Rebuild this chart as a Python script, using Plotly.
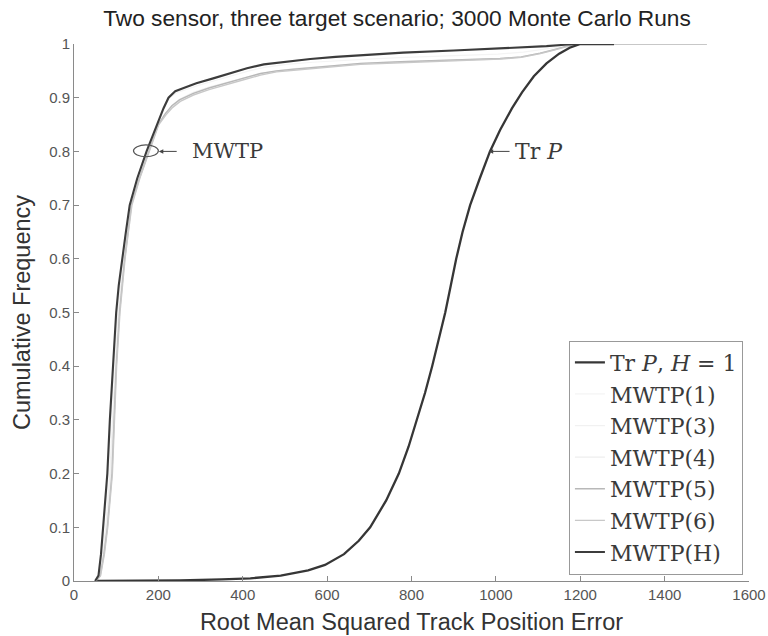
import plotly.graph_objects as go

# ---- data ----
trp_x = [55, 150, 250, 350, 418, 490, 555, 595, 640, 675, 702, 740, 770, 793, 813, 832, 849, 865, 880, 893, 906, 921, 939, 962, 986, 1010, 1038, 1062, 1090, 1120, 1150, 1175, 1200, 1280]
trp_y = [0, 0, 0.001, 0.003, 0.005, 0.01, 0.02, 0.03, 0.05, 0.075, 0.1, 0.15, 0.2, 0.25, 0.3, 0.35, 0.4, 0.45, 0.5, 0.55, 0.6, 0.65, 0.7, 0.75, 0.8, 0.84, 0.88, 0.91, 0.94, 0.964, 0.982, 0.993, 1.0, 1.0]

mwtpH_x = [50, 58, 64, 69, 79, 85, 92, 100, 106, 114, 123, 132, 150, 172, 196, 212, 224, 240, 260, 290, 330, 370, 410, 450, 500, 560, 620, 690, 780, 900, 1000, 1060, 1120, 1170, 1200, 1280]
mwtpH_y = [0, 0.01, 0.05, 0.1, 0.2, 0.3, 0.4, 0.5, 0.55, 0.6, 0.65, 0.7, 0.75, 0.8, 0.85, 0.88, 0.9, 0.912, 0.918, 0.927, 0.936, 0.945, 0.955, 0.962, 0.967, 0.972, 0.976, 0.980, 0.984, 0.988, 0.991, 0.993, 0.996, 0.999, 1.0, 1.0]

mwtp1_x = [50, 58, 65, 71, 81, 87, 94, 102, 108, 116, 125, 134, 152, 174, 198, 214, 227, 245, 265, 295, 335, 375, 415, 455, 505, 565, 625, 695, 785, 905, 1005, 1065, 1120, 1170, 1200, 1500]
mwtp1_y = [0, 0.01, 0.05, 0.1, 0.2, 0.3, 0.4, 0.5, 0.55, 0.6, 0.65, 0.7, 0.75, 0.8, 0.85, 0.88, 0.9, 0.91, 0.915, 0.923, 0.932, 0.941, 0.950, 0.957, 0.962, 0.966, 0.969, 0.972, 0.975, 0.978, 0.981, 0.985, 0.991, 0.997, 1.0, 1.0]

mwtp3_x = [51, 60, 68, 75, 85, 91, 97, 104, 110, 118, 127, 136, 154, 176, 199, 216, 232, 250, 283, 320, 363, 400, 442, 480, 521, 600, 679, 774, 900, 1010, 1060, 1105, 1140, 1168, 1200, 1500]
mwtp3_y = [0, 0.01, 0.05, 0.1, 0.2, 0.3, 0.4, 0.5, 0.55, 0.6, 0.65, 0.7, 0.75, 0.8, 0.85, 0.87, 0.885, 0.897, 0.91, 0.92, 0.929, 0.937, 0.945, 0.950, 0.954, 0.959, 0.964, 0.967, 0.970, 0.973, 0.976, 0.983, 0.990, 0.996, 1.0, 1.0]

mwtp4_x = [52, 61, 69, 77, 87, 93, 99, 106, 112, 120, 129, 138, 156, 178, 200, 217, 234, 252, 283, 320, 363, 400, 442, 480, 521, 600, 679, 774, 900, 1010, 1060, 1105, 1140, 1168, 1200, 1500]
mwtp4_y = [0, 0.01, 0.05, 0.1, 0.2, 0.3, 0.4, 0.5, 0.55, 0.6, 0.65, 0.7, 0.75, 0.8, 0.85, 0.87, 0.884, 0.896, 0.908, 0.918, 0.927, 0.936, 0.944, 0.949, 0.953, 0.958, 0.963, 0.966, 0.969, 0.972, 0.975, 0.982, 0.989, 0.995, 1.0, 1.0]

mwtp5_x = [52, 62, 71, 79, 90, 95, 100, 108, 114, 120, 128, 136, 155, 178, 200, 216, 232, 250, 283, 320, 363, 400, 442, 480, 521, 600, 679, 774, 900, 1010, 1060, 1105, 1140, 1168, 1200, 1500]
mwtp5_y = [0, 0.01, 0.05, 0.1, 0.2, 0.3, 0.4, 0.5, 0.55, 0.6, 0.65, 0.7, 0.75, 0.8, 0.85, 0.87, 0.885, 0.896, 0.908, 0.918, 0.927, 0.936, 0.945, 0.950, 0.953, 0.958, 0.964, 0.967, 0.970, 0.973, 0.976, 0.983, 0.990, 0.996, 1.0, 1.0]

mwtp6_x = [53, 63, 72, 80, 91, 96, 101, 109, 115, 121, 129, 137, 156, 179, 201, 218, 234, 252, 283, 320, 363, 400, 442, 480, 521, 600, 679, 774, 900, 1010, 1060, 1105, 1140, 1168, 1200, 1500]
mwtp6_y = [0, 0.01, 0.05, 0.1, 0.2, 0.3, 0.4, 0.5, 0.55, 0.6, 0.65, 0.7, 0.75, 0.8, 0.85, 0.868, 0.882, 0.893, 0.905, 0.915, 0.924, 0.933, 0.942, 0.948, 0.951, 0.956, 0.962, 0.965, 0.968, 0.972, 0.975, 0.982, 0.989, 0.995, 1.0, 1.0]

x_ticks = [0, 200, 400, 600, 800, 1000, 1200, 1400, 1600]
y_ticks = [0, 0.1, 0.2, 0.3, 0.4, 0.5, 0.6, 0.7, 0.8, 0.9, 1]
y_tick_labels = ["0", "0.1", "0.2", "0.3", "0.4", "0.5", "0.6", "0.7", "0.8", "0.9", "1"]

series = [
    ("Tr <i>P</i>, <i>H</i> = 1", trp_x, trp_y, "#363636", 2.3),
    ("MWTP(1)", mwtp1_x, mwtp1_y, "#f4f4f4", 1.2),
    ("MWTP(3)", mwtp3_x, mwtp3_y, "#f1f1f1", 1.2),
    ("MWTP(4)", mwtp4_x, mwtp4_y, "#eeeeee", 1.2),
    ("MWTP(5)", mwtp5_x, mwtp5_y, "#b8b8b8", 1.4),
    ("MWTP(6)", mwtp6_x, mwtp6_y, "#c8c8c8", 1.4),
    ("MWTP(H)", mwtpH_x, mwtpH_y, "#3c3c3c", 2.1),
]

SERIF = "DejaVu Serif, Liberation Serif, serif"
SANS = "Liberation Sans, Arial, sans-serif"

fig = go.Figure()
order = [1, 2, 3, 4, 5, 0, 6]
for i in order:
    name, xs, ys, col, w = series[i]
    fig.add_trace(go.Scatter(x=xs, y=ys, mode="lines", name=name,
                             line=dict(color=col, width=w), legendrank=i + 1))

fig.add_shape(type="circle", xref="x", yref="y", x0=141, x1=200, y0=0.790, y1=0.812,
              line=dict(color="#555555", width=1.2))

# MWTP arrow + label
fig.add_annotation(x=201, y=0.8, xref="x", yref="y", ax=247, ay=0.8, axref="x", ayref="y",
                   text="", showarrow=True, arrowhead=2, arrowsize=0.9, arrowwidth=1,
                   arrowcolor="#444")
fig.add_annotation(x=276, y=0.8, xref="x", yref="y", text="MWTP", showarrow=False,
                   xanchor="left", yanchor="middle", font=dict(family=SERIF, size=21, color="#3a3a3a"))
# Tr P arrow + label
fig.add_annotation(x=983, y=0.8, xref="x", yref="y", ax=1036, ay=0.8, axref="x", ayref="y",
                   text="", showarrow=True, arrowhead=2, arrowsize=0.9, arrowwidth=1,
                   arrowcolor="#444")
fig.add_annotation(x=1040, y=0.8, xref="x", yref="y", text="Tr <i>P</i>", showarrow=False,
                   xanchor="left", yanchor="middle", font=dict(family=SERIF, size=22, color="#3a3a3a"))

fig.update_layout(
    width=768, height=636,
    margin=dict(l=74, r=19, t=44, b=55, autoexpand=False),
    paper_bgcolor="white", plot_bgcolor="white",
    title=dict(text="Two sensor, three target scenario; 3000 Monte Carlo Runs",
               x=397 / 768, xanchor="center", y=1 - 18 / 636, yanchor="middle",
               font=dict(family=SANS, size=22.7, color="#222")),
    showlegend=True,
    legend=dict(x=0.991, xanchor="right", y=0.012, yanchor="bottom",
                bgcolor="white", bordercolor="#999", borderwidth=1,
                font=dict(family=SERIF, size=22, color="#3a3a3a"),
                entrywidth=190, entrywidthmode="pixels",
                traceorder="normal"),
    xaxis=dict(range=[0, 1600], tickvals=x_ticks, ticktext=[str(v) for v in x_ticks],
               showline=True, linecolor="#8a8a8a", linewidth=1, ticks="inside", ticklen=5,
               tickcolor="#8a8a8a", showgrid=False, zeroline=False, automargin=False,
               tickfont=dict(family=SANS, size=15, color="#555"),
               title=dict(text="Root Mean Squared Track Position Error",
                          font=dict(family=SANS, size=23.5, color="#333"), standoff=11)),
    yaxis=dict(range=[0, 1], tickvals=y_ticks, ticktext=y_tick_labels,
               showline=True, linecolor="#8a8a8a", linewidth=1, ticks="inside", ticklen=5,
               tickcolor="#8a8a8a", showgrid=False, zeroline=False, automargin=False,
               tickfont=dict(family=SANS, size=15, color="#555"),
               title=dict(text="Cumulative Frequency",
                          font=dict(family=SANS, size=23.5, color="#333"), standoff=11)),
)

fig.write_html("out.html")
